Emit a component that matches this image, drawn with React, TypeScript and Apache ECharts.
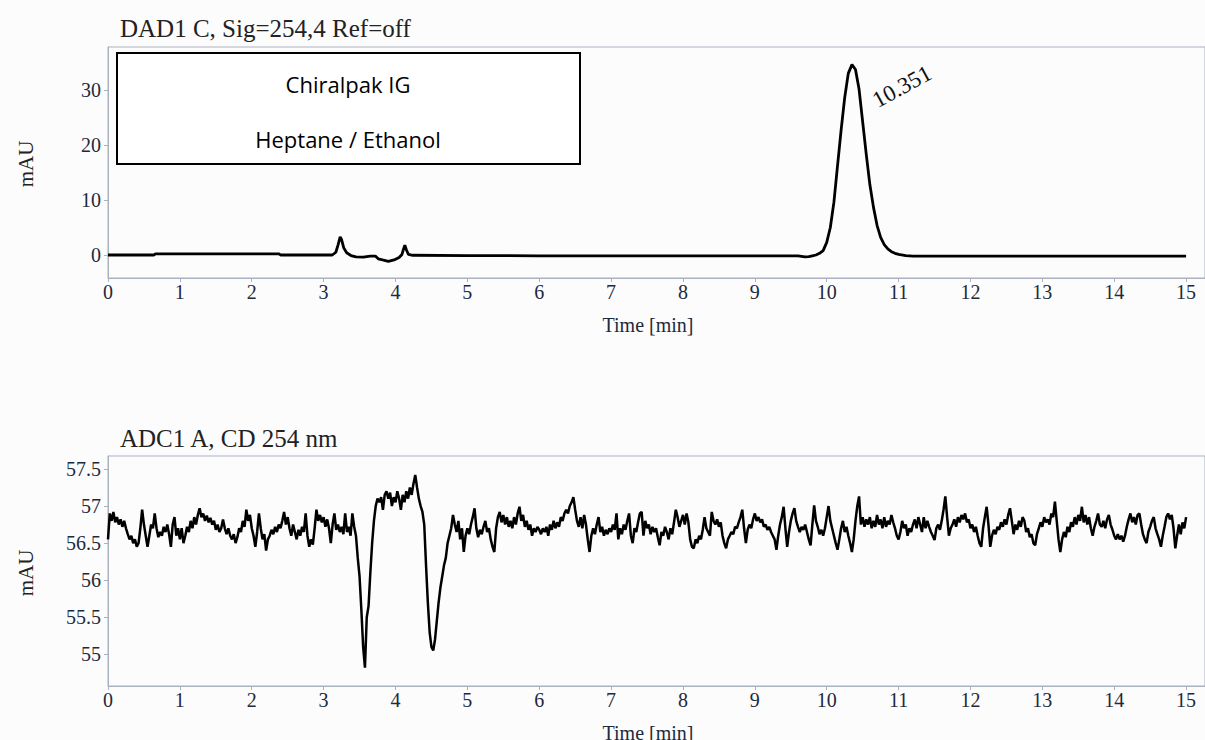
import React, { useEffect, useRef } from "react";
import * as echarts from "echarts";

// ---------- DATA ----------
const xTicks = [0, 1, 2, 3, 4, 5, 6, 7, 8, 9, 10, 11, 12, 13, 14, 15];
const dadYTicks = [0, 10, 20, 30];
const adcYTicks = [55, 55.5, 56, 56.5, 57, 57.5];

const dadTitle = "DAD1 C, Sig=254,4 Ref=off";
const adcTitle = "ADC1 A, CD 254 nm";
const boxLines = ["Chiralpak IG", "Heptane / Ethanol"];
const peakTime = 10.351;
const peakHeight = 34.6;

const dadTime = [
  0, 0.64, 0.66, 2.38, 2.4, 3.12, 3.17, 3.2, 3.23, 3.25, 3.28, 3.32, 3.38, 3.45, 3.55,
  3.65, 3.72, 3.76, 3.82, 3.9, 3.98, 4.05, 4.09, 4.11, 4.13, 4.15, 4.18, 4.24, 5, 6,
  7, 8, 9, 9.6, 9.7, 9.75, 9.8, 9.85, 9.9, 9.95, 10.0, 10.05, 10.1, 10.15, 10.2,
  10.25, 10.3, 10.351, 10.4, 10.45, 10.5, 10.55, 10.6, 10.65, 10.7, 10.75, 10.8, 10.85, 10.9, 10.95,
  11.0, 11.1, 11.2, 12, 13, 14, 15,
];
const dadSignal = [
  0, 0, 0.2, 0.2, 0, 0, 0.5, 1.8, 3.3, 2.8, 1.3, 0.4, -0.1, -0.35, -0.4,
  -0.2, -0.2, -0.7, -0.9, -1.15, -0.9, -0.45, 0.1, 1.0, 1.8, 1.0, 0.1, -0.05, -0.1, -0.15,
  -0.15, -0.15, -0.15, -0.15, -0.35, -0.3, -0.15, 0.0, 0.3, 0.8, 2.3, 5.0, 9.6, 16.2, 22.7,
  28.6, 33.0, 34.6, 33.7, 30.1, 24.2, 18.3, 12.8, 8.7, 5.4, 3.2, 1.9, 1.1, 0.6, 0.3,
  0.1, -0.1, -0.2, -0.2, -0.2, -0.2, -0.2,
];

const adcStart = 0;
const adcStep = 0.025;
const adcSignal = [
  // 0.000 - 0.975
  56.55, 56.9, 56.8, 56.92, 56.78, 56.85, 56.75, 56.82, 56.72, 56.8, 56.7, 56.62, 56.55, 56.6, 56.5, 56.55, 56.45, 56.5, 56.7, 56.95,
  56.75, 56.6, 56.45, 56.6, 56.75, 56.7, 56.9, 56.7, 56.58, 56.65, 56.6, 56.72, 56.65, 56.75, 56.62, 56.45, 56.75, 56.85, 56.6, 56.7,
  // 1.000 - 1.975
  56.55, 56.7, 56.5, 56.6, 56.72, 56.65, 56.8, 56.7, 56.85, 56.75, 56.88, 56.97, 56.85, 56.9, 56.8, 56.87, 56.78, 56.84, 56.75, 56.8,
  56.68, 56.75, 56.65, 56.7, 56.82, 56.7, 56.62, 56.7, 56.6, 56.55, 56.62, 56.5, 56.58, 56.7, 56.65, 56.8, 56.72, 56.95, 56.8, 56.88,
  // 2.000 - 2.975
  56.7, 56.6, 56.45, 56.65, 56.9, 56.7, 56.55, 56.62, 56.4, 56.55, 56.6, 56.68, 56.62, 56.72, 56.65, 56.75, 56.7, 56.8, 56.92, 56.75,
  56.85, 56.7, 56.6, 56.75, 56.65, 56.55, 56.68, 56.6, 56.72, 56.65, 56.9, 56.6, 56.45, 56.55, 56.48, 56.7, 56.95, 56.8, 56.88, 56.78,
  // 3.000 - 3.975
  56.85, 56.72, 56.82, 56.7, 56.5, 56.75, 56.9, 56.68, 56.75, 56.65, 56.72, 56.62, 56.9, 56.65, 56.72, 56.6, 56.9, 56.72, 56.6, 56.3,
  56.05, 55.6, 55.1, 54.82, 55.5, 55.65, 56.1, 56.5, 56.8, 57.0, 57.1, 57.05, 57.12, 56.95, 57.15, 57.2, 57.1, 57.18, 57.0, 57.12,
  // 4.000 - 4.975
  57.05, 57.2, 57.1, 56.95, 57.15, 57.05, 57.2, 57.1, 57.25, 57.15, 57.3, 57.42, 57.25, 57.1, 57.0, 56.92, 56.75, 56.2, 55.7, 55.3,
  55.1, 55.05, 55.2, 55.45, 55.7, 55.9, 56.05, 56.2, 56.3, 56.5, 56.6, 56.7, 56.88, 56.75, 56.65, 56.8, 56.55, 56.7, 56.38, 56.6,
  // 5.000 - 5.975
  56.7, 56.62, 56.75, 56.85, 56.97, 56.7, 56.58, 56.68, 56.62, 56.72, 56.8, 56.65, 56.7, 56.55, 56.45, 56.38, 56.7, 56.85, 56.92, 56.78,
  56.88, 56.75, 56.85, 56.72, 56.8, 56.7, 56.85, 56.75, 56.9, 56.99, 56.8, 56.88, 56.72, 56.8, 56.68, 56.75, 56.6, 56.7, 56.65, 56.72,
  // 6.000 - 6.975
  56.68, 56.62, 56.7, 56.65, 56.72, 56.6, 56.75, 56.68, 56.8, 56.7, 56.78, 56.72, 56.85, 56.8, 56.9, 56.95, 56.9, 57.0, 57.05, 57.12,
  56.95, 56.8, 56.72, 56.85, 56.7, 56.88, 56.75, 56.55, 56.38, 56.6, 56.7, 56.62, 56.75, 56.85, 56.65, 56.72, 56.6, 56.68, 56.62, 56.7,
  // 7.000 - 7.975
  56.65, 56.75, 56.68, 56.9, 56.55, 56.7, 56.62, 56.75, 56.68, 56.8, 56.9, 56.6, 56.5, 56.7, 56.65, 56.78, 56.9, 56.92, 56.6, 56.8,
  56.7, 56.75, 56.62, 56.72, 56.65, 56.7, 56.58, 56.47, 56.65, 56.6, 56.72, 56.65, 56.55, 56.7, 56.62, 56.78, 56.95, 56.85, 56.72, 56.8,
  // 8.000 - 8.975
  56.88, 56.75, 56.9, 56.78, 56.55, 56.45, 56.43, 56.55, 56.5, 56.6, 56.55, 56.68, 56.85, 56.7, 56.65, 56.6, 56.92, 56.8, 56.75, 56.82,
  56.72, 56.78, 56.6, 56.5, 56.43, 56.55, 56.6, 56.65, 56.62, 56.72, 56.7, 56.78, 56.85, 56.95, 56.7, 56.5, 56.68, 56.75, 56.7, 56.82,
  // 9.000 - 9.975
  56.9, 56.8, 56.85, 56.78, 56.82, 56.72, 56.75, 56.68, 56.72, 56.65, 56.6, 56.55, 56.41, 56.6, 56.75, 56.85, 56.99, 56.7, 56.45, 56.65,
  56.8, 56.9, 56.97, 56.8, 56.72, 56.65, 56.72, 56.68, 56.75, 56.65, 56.55, 56.47, 56.75, 57.01, 56.8, 56.72, 56.62, 56.68, 56.6, 56.7,
  // 10.000 - 10.975
  56.85, 57.0, 56.8, 56.7, 56.6, 56.5, 56.41, 56.55, 56.7, 56.8, 56.65, 56.72, 56.6, 56.5, 56.38, 56.55, 56.8, 57.0, 57.13, 56.75,
  56.85, 56.72, 56.82, 56.75, 56.85, 56.7, 56.8, 56.72, 56.88, 56.75, 56.82, 56.7, 56.85, 56.72, 56.8, 56.75, 56.88, 56.78, 56.7, 56.6,
  // 11.000 - 11.975
  56.55, 56.65, 56.8, 56.7, 56.75, 56.6, 56.7, 56.65, 56.75, 56.82, 56.7, 56.85, 56.75, 56.65, 56.85, 56.7, 56.8, 56.72, 56.65, 56.6,
  56.54, 56.7, 56.75, 56.68, 56.8, 56.95, 57.13, 56.85, 56.6, 56.7, 56.75, 56.82, 56.72, 56.85, 56.78, 56.88, 56.82, 56.9, 56.78, 56.82,
  // 12.000 - 12.975
  56.7, 56.75, 56.65, 56.72, 56.6, 56.5, 56.45, 56.7, 56.85, 56.99, 56.75, 56.45, 56.6, 56.68, 56.62, 56.72, 56.68, 56.78, 56.72, 56.82,
  56.75, 56.88, 56.97, 56.8, 56.62, 56.75, 56.68, 56.8, 56.72, 56.85, 56.8, 56.65, 56.7, 56.58, 56.62, 56.5, 56.47, 56.62, 56.7, 56.78,
  // 13.000 - 13.975
  56.72, 56.85, 56.78, 56.82, 56.75, 56.9, 56.85, 57.06, 56.8, 56.55, 56.38, 56.55, 56.65, 56.58, 56.72, 56.65, 56.78, 56.72, 56.85, 56.75,
  56.88, 56.8, 56.99, 56.78, 56.88, 56.75, 56.85, 56.7, 56.6, 56.72, 56.8, 56.9, 56.75, 56.72, 56.8, 56.7, 56.82, 56.88, 56.75, 56.68,
  // 14.000 - 14.975
  56.6, 56.55, 56.62, 56.55, 56.6, 56.52, 56.6, 56.72, 56.82, 56.9, 56.78, 56.85, 56.75, 56.88, 56.9, 56.75, 56.62, 56.55, 56.5, 56.65,
  56.72, 56.8, 56.85, 56.7, 56.62, 56.55, 56.45, 56.6, 56.72, 56.85, 56.9, 56.82, 56.88, 56.7, 56.43, 56.6, 56.75, 56.62, 56.78, 56.7,
  // 15.000
  56.85,
];

// ---------- STYLE ----------
const SERIF = "'Liberation Serif', 'Times New Roman', serif";
const AXIS_COLOR = "#aab1bf";
const LABEL_COLOR = "#1d2a3d";

function makeXAxis(gridIndex: number) {
  return {
    type: "value",
    gridIndex,
    min: 0,
    max: 15.263,
    axisLine: { show: true, onZero: false, lineStyle: { color: AXIS_COLOR, width: 1 } },
    axisTick: { show: true, customValues: xTicks, length: 4, lineStyle: { color: AXIS_COLOR } },
    axisLabel: {
      customValues: xTicks,
      color: LABEL_COLOR,
      fontFamily: SERIF,
      fontSize: 20,
      margin: 4,
    },
    splitLine: { show: false },
  };
}

function makeYAxis(gridIndex: number, min: number, max: number, ticks: number[]) {
  return {
    type: "value",
    gridIndex,
    min,
    max,
    axisLine: { show: true, onZero: false, lineStyle: { color: AXIS_COLOR, width: 1 } },
    axisTick: { show: true, customValues: ticks, length: 4, lineStyle: { color: AXIS_COLOR } },
    axisLabel: {
      customValues: ticks,
      color: LABEL_COLOR,
      fontFamily: SERIF,
      fontSize: 20,
      margin: 7,
    },
    splitLine: { show: false },
  };
}

export default function App() {
  const ref = useRef<HTMLDivElement>(null);

  useEffect(() => {
    if (!ref.current) return;
    const chart = echarts.init(ref.current, null, { renderer: "svg" });

    const dadData = dadTime.map((t, i) => [t, dadSignal[i]]);
    const adcData = adcSignal.map((v, i) => [adcStart + i * adcStep, v]);

    chart.setOption({
      animation: false,
      backgroundColor: "#fcfcfc",
      grid: [
        { left: 108, top: 47, width: 1100, height: 231, show: true, borderColor: AXIS_COLOR, borderWidth: 1 },
        { left: 108, top: 456, width: 1100, height: 230, show: true, borderColor: AXIS_COLOR, borderWidth: 1 },
      ],
      xAxis: [makeXAxis(0), makeXAxis(1)],
      yAxis: [makeYAxis(0, -4.18, 37.8, dadYTicks), makeYAxis(1, 54.572, 57.675, adcYTicks)],
      series: [
        {
          type: "line",
          xAxisIndex: 0,
          yAxisIndex: 0,
          data: dadData,
          showSymbol: false,
          silent: true,
          lineStyle: { color: "#000", width: 2.8 },
        },
        {
          type: "line",
          xAxisIndex: 1,
          yAxisIndex: 1,
          data: adcData,
          showSymbol: false,
          silent: true,
          lineStyle: { color: "#000", width: 2.5 },
        },
      ],
    });

    const p = chart.convertToPixel({ gridIndex: 0 }, [peakTime, peakHeight]) as number[];

    const textStyle = (text: string, size: number, family: string, color: string) => ({
      text,
      fill: color,
      fontSize: size,
      fontFamily: family,
      align: "center",
      verticalAlign: "middle",
      textAlign: "center",
      textVerticalAlign: "middle",
    });

    chart.setOption({
      graphic: [
        {
          type: "text",
          left: 120,
          top: 16,
          style: { text: dadTitle, fill: "#222", fontSize: 25, fontFamily: SERIF },
        },
        {
          type: "text",
          left: 120,
          top: 426,
          style: { text: adcTitle, fill: "#222", fontSize: 25, fontFamily: SERIF },
        },
        {
          type: "rect",
          shape: { x: 117, y: 53, width: 463, height: 111 },
          style: { fill: "#fff", stroke: "#000", lineWidth: 2 },
        },
        { type: "text", x: 348, y: 84, style: textStyle(boxLines[0], 22, "'Open Sans', sans-serif", "#000") },
        { type: "text", x: 348, y: 139, style: textStyle(boxLines[1], 22, "'Open Sans', sans-serif", "#000") },
        { type: "text", x: 26, y: 164, rotation: Math.PI / 2, style: textStyle("mAU", 21, SERIF, "#222") },
        { type: "text", x: 26, y: 573, rotation: Math.PI / 2, style: textStyle("mAU", 21, SERIF, "#222") },
        { type: "text", x: 648, y: 325, style: textStyle("Time [min]", 20, SERIF, LABEL_COLOR) },
        { type: "text", x: 648, y: 733, style: textStyle("Time [min]", 20, SERIF, LABEL_COLOR) },
        {
          type: "text",
          x: p[0] + 50,
          y: p[1] + 22,
          rotation: 0.5,
          style: textStyle(peakTime.toFixed(3), 23, SERIF, "#111"),
        },
      ],
    });

    return () => chart.dispose();
  }, []);

  return (
    <div
      ref={ref}
      style={{ position: "absolute", left: 0, top: 0, width: 1205, height: 740 }}
    />
  );
}
